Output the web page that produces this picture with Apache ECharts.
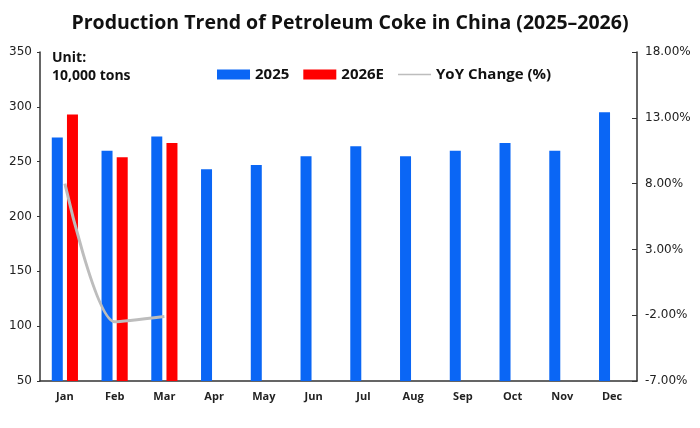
<!DOCTYPE html>
<html><head><meta charset="utf-8">
<script src="https://cdn.jsdelivr.net/npm/echarts@6/dist/echarts.min.js"></script>
<style>html,body{margin:0;padding:0;background:#fff}#c{width:700px;height:428px}</style>
</head><body><div id="c"></div>
<script>
const months = ['Jan','Feb','Mar','Apr','May','Jun','Jul','Aug','Sep','Oct','Nov','Dec'];
const prod2025 = [272, 260, 273, 243, 247, 255, 264, 255, 260, 267, 260, 295];
const prod2026E = [293, 254, 267, null, null, null, null, null, null, null, null, null];
const yoyChange = [8.0, -2.5, -2.1, null, null, null, null, null, null, null, null, null];

const chart = echarts.init(document.getElementById('c'));
const axisFont = {fontFamily: 'DejaVu Sans', fontSize: 12, color: '#222'};
chart.setOption({
  animation: false,
  title: {
    text: 'Production Trend of Petroleum Coke in China (2025\u20132026)',
    left: 'center', top: 8,
    textStyle: {fontFamily: 'Open Sans', fontWeight: 'bold', fontSize: 19.5, color: '#111'}
  },
  legend: {
    top: 62, left: 212,
    itemWidth: 33, itemHeight: 10, itemGap: 14,
    textStyle: {fontFamily: 'Open Sans', fontWeight: 'bold', fontSize: 15, color: '#111'},
    data: [
      {name: '2025', icon: 'rect'},
      {name: '2026E', icon: 'rect'},
      {name: 'YoY Change (%)', icon: 'path://M0,4.2 L33,4.2 L33,5.8 L0,5.8 Z'}
    ]
  },
  graphic: [
    {type: 'text', left: 52, top: 49, style: {text: 'Unit:\n10,000 tons', fontFamily: 'Open Sans', fontWeight: 'bold', fontSize: 14, lineHeight: 18, fill: '#111'}}
  ],
  grid: {left: 40, right: 63, top: 52, bottom: 47},
  xAxis: {
    type: 'category', data: months,
    axisLine: {onZero: false, lineStyle: {color: '#333', width: 1.5}},
    axisTick: {inside: true, length: 6, lineStyle: {color: '#333'}},
    axisLabel: {fontFamily: 'Open Sans', fontWeight: 'bold', fontSize: 11, color: '#222', margin: 10}
  },
  yAxis: [
    {
      type: 'value', min: 50, max: 350, interval: 50,
      axisLine: {show: true, lineStyle: {color: '#333', width: 1.5}},
      axisTick: {show: true, length: 3, lineStyle: {color: '#333'}},
      splitLine: {show: false},
      axisLabel: Object.assign({margin: 8}, axisFont)
    },
    {
      type: 'value', min: -7, max: 18, interval: 5, position: 'right',
      axisLine: {show: true, lineStyle: {color: '#333', width: 1.5}},
      axisTick: {show: true, inside: true, length: 5, lineStyle: {color: '#333'}},
      splitLine: {show: false},
      axisLabel: Object.assign({margin: 8, formatter: v => v.toFixed(2) + '%'}, axisFont)
    }
  ],
  series: [
    {name: '2025', type: 'bar', data: prod2025, barWidth: 11, barGap: '38%',
     itemStyle: {color: '#0a66f5'}},
    {name: '2026E', type: 'bar', data: prod2026E, barWidth: 11,
     itemStyle: {color: '#ff0000'}},
    {name: 'YoY Change (%)', type: 'line', yAxisIndex: 1, data: yoyChange,
     smooth: 0.25, symbol: 'none',
     lineStyle: {color: '#bdbdbd', width: 3},
     itemStyle: {color: '#bdbdbd'}}
  ]
});
</script></body></html>
